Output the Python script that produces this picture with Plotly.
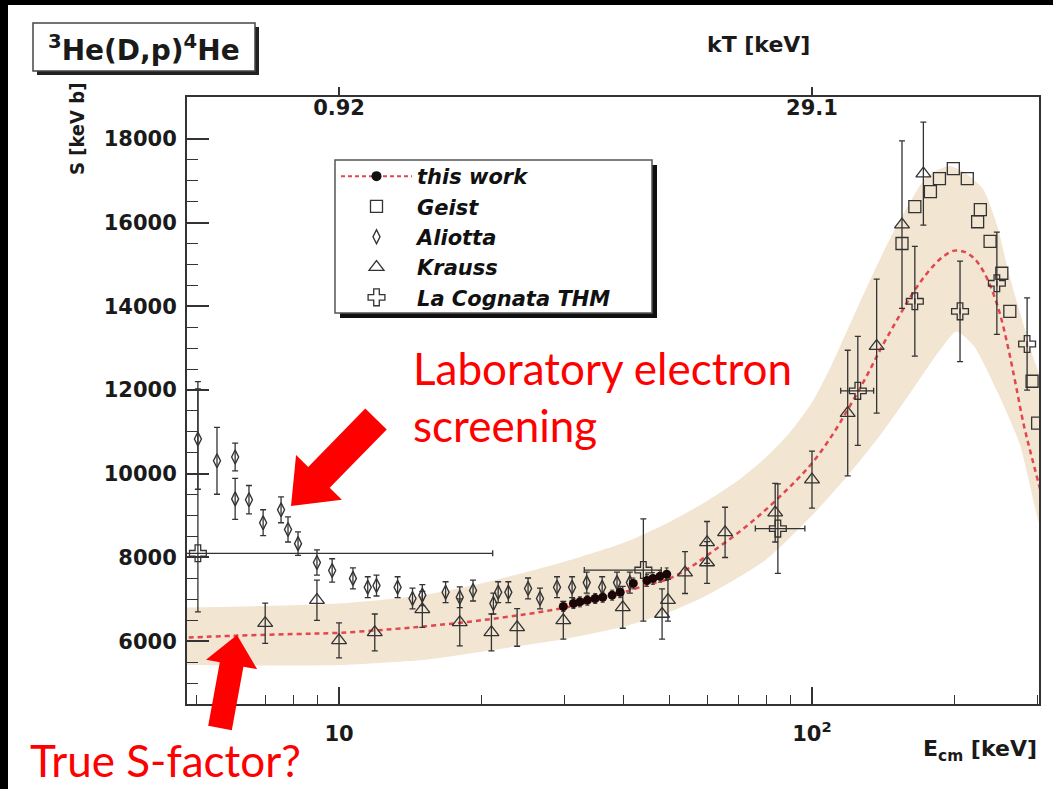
import math
import plotly.graph_objects as go

# ---------------------------------------------------------------------------
# Data: 3He(D,p)4He astrophysical S-factor, S [keV b] versus E_cm [keV]
# ---------------------------------------------------------------------------

# R-matrix fit ("this work") and its uncertainty band
fit_e = [4.6, 6, 8, 10, 13, 16, 20, 25, 30, 35, 40, 45, 50, 55, 60, 70, 80, 90,
         100, 110, 120, 130, 140, 150, 160, 170, 180, 190, 200, 210, 220, 230,
         240, 250, 260, 270, 280, 290, 305]
fit_s = [6080, 6130, 6170, 6200, 6290, 6380, 6500, 6650, 6800, 6980, 7170, 7350,
         7500, 7750, 8050, 8600, 9150, 9700, 10250, 10900, 11600, 12300, 13000,
         13600, 14150, 14600, 14950, 15200, 15330, 15300, 15150, 14850, 14400,
         13800, 13000, 12100, 11200, 10500, 9550]

band_lo_e = [4.6, 10, 15, 20, 30, 40, 50, 60, 80, 100, 120, 139, 163, 185, 202,
             220, 246, 275, 305]
band_lo_s = [5430, 5430, 5550, 5750, 6050, 6350, 6700, 7100, 7950, 9000, 10000,
             10900, 12000, 12900, 13400, 13050, 11980, 10710, 8700]
band_hi_e = [4.6, 10, 15, 20, 30, 40, 50, 60, 70, 80, 90, 100, 110, 124, 146, 175,
             195, 210, 230, 246, 262, 294, 305]
band_hi_s = [6800, 6900, 7100, 7380, 7900, 8350, 8850, 9350, 9850, 10400, 11000,
             11700, 12600, 13900, 15600, 17100, 17350, 17200, 16800, 15950, 14700,
             12760, 12200]

# this work (measured points)
tw_e = [29.8, 31.3, 32.3, 33.5, 34.8, 36.1, 37.8, 39.3, 41.9, 44.8, 46.1, 47.7, 49.3]
tw_s = [6830, 6900, 6940, 6980, 7020, 7050, 7100, 7170, 7380, 7450, 7500, 7550, 7600]
tw_err = [120, 120, 120, 120, 120, 120, 120, 130, 130, 140, 140, 140, 150]

# Geist
ge_e = [155, 165, 178, 186, 199, 213, 224, 227, 238, 252, 262, 292, 300]
ge_s = [15500, 16380, 16740, 17050, 17290, 17050, 16020, 16310, 15550, 14790,
        13880, 12210, 11210]

# Aliotta
ali_e = [5.03, 5.52, 6.03, 6.03, 6.45, 6.91, 7.54, 7.80, 8.19, 8.98, 9.67, 10.7,
         11.5, 12.0, 13.3, 14.3, 15.0, 16.8, 18.0, 19.2, 21.2, 21.7, 22.8, 25.1,
         26.6, 28.9, 31.1, 33.4, 36.0, 38.7, 41.2]
ali_s = [10830, 10310, 10400, 9400, 9380, 8830, 9140, 8670, 8330, 7880, 7690, 7500,
         7290, 7330, 7290, 7020, 7100, 7170, 7050, 7210, 6900, 7170, 7170, 7260,
         7020, 7290, 7290, 7400, 7290, 7400, 7400]
ali_err = [1200, 800, 330, 490, 340, 310, 310, 300, 280, 300, 280, 250, 250, 250,
           250, 250, 250, 250, 250, 250, 250, 250, 250, 250, 250, 250, 250, 250,
           250, 250, 250]

# Krauss
kr_e = [6.98, 8.98, 10.0, 11.9, 15.0, 18.0, 21.0, 23.8, 29.8, 39.8, 48.2, 49.6,
        53.9, 60.0, 60.0, 65.5, 83.6, 100, 119, 137, 155, 172]
kr_s = [6430, 6980, 6020, 6210, 6760, 6450, 6210, 6330, 6500, 6810, 6650, 6980,
        7640, 7880, 8360, 8600, 9070, 9860, 11450, 13050, 15950, 17170]
kr_err = [480, 480, 420, 440, 430, 560, 440, 450, 450, 500, 600, 500, 500, 500,
          500, 600, 700, 680, 1500, 1600, 2000, 1230]

# La Cognata THM
thm_e = [5.03, 44, 84.7, 125, 165, 205.6, 246, 285]
thm_s = [8100, 7700, 8690, 11980, 14120, 13880, 14550, 13100]
thm_err_up = [4100, 1220, 1070, 1300, 1310, 1200, 1220, 1100]
thm_err_dn = [1400, 1220, 1070, 1300, 1310, 1200, 1220, 1100]
thm_xerr_up = [16.1, 4, 11.9, 10, 0, 0, 0, 0]
thm_xerr_dn = [0.3, 11, 8.8, 10, 0, 0, 0, 0]

# axis ticks
x_major = [10, 100]
x_major_text = ["10", "10<sup>2</sup>"]
x_minor = [5, 6, 7, 8, 9, 20, 30, 40, 50, 60, 70, 80, 90, 200, 300]
y_major = [6000, 8000, 10000, 12000, 14000, 16000, 18000]
y_major_text = ["6000", "8000", "10000", "12000", "14000", "16000", "18000"]
kt_pos = [10, 100]
kt_text = ["0.92", "29.1"]

# ---------------------------------------------------------------------------
# Styling / layout helpers
# ---------------------------------------------------------------------------
W, H = 1053, 789
L, R, T, B = 187, 1039, 97, 704          # plot-area edges in pixels
X_RANGE = [math.log10(4.77), math.log10(302)]
Y_RANGE = [4500, 19000]

AX = "#333333"
MK = "#333333"
RED_FIT = "rgb(226,70,80)"
BAND = "rgb(242,229,210)"
BOLD = dict(family="DejaVu Sans", color="#1a1a1a", weight="bold")


def px(x):
    return (x - L) / (R - L)


def py(y):
    return (B - y) / (B - T)


def arrow_path(tip, tail, head_len, head_half, shaft_half):
    tx, ty = tip
    sx, sy = tail
    dx, dy = sx - tx, sy - ty
    n = math.hypot(dx, dy)
    ux, uy = dx / n, dy / n
    vx, vy = -uy, ux
    bx, by = tx + ux * head_len, ty + uy * head_len
    pts = [
        (tx, ty),
        (bx + vx * head_half, by + vy * head_half),
        (bx + vx * shaft_half, by + vy * shaft_half),
        (sx + vx * shaft_half, sy + vy * shaft_half),
        (sx - vx * shaft_half, sy - vy * shaft_half),
        (bx - vx * shaft_half, by - vy * shaft_half),
        (bx - vx * head_half, by - vy * head_half),
    ]
    return "M " + " L ".join(f"{px(x):.5f},{py(y):.5f}" for x, y in pts) + " Z"


def err(arr, arr_minus=None, thickness=1.3, width=3):
    d = dict(type="data", array=arr, visible=True, color=MK,
             thickness=thickness, width=width)
    if arr_minus is not None:
        d["symmetric"] = False
        d["arrayminus"] = arr_minus
    return d


fig = go.Figure()

# uncertainty band of the fit
fig.add_trace(go.Scatter(
    x=band_lo_e + band_hi_e[::-1], y=band_lo_s + band_hi_s[::-1],
    mode="lines", fill="toself", fillcolor=BAND,
    line=dict(width=0, shape="spline", smoothing=0.6),
    showlegend=False, hoverinfo="skip"))

# fit curve
fig.add_trace(go.Scatter(
    x=fit_e, y=fit_s, mode="lines",
    line=dict(color=RED_FIT, width=2.5, dash="5px,4px", shape="spline"),
    showlegend=False, hoverinfo="skip"))

fig.add_trace(go.Scatter(
    x=ali_e, y=ali_s, mode="markers", name="Aliotta", legendrank=3,
    marker=dict(symbol="diamond-tall-open", size=10, color=MK, line=dict(width=1.4, color=MK)),
    error_y=err(ali_err)))

fig.add_trace(go.Scatter(
    x=kr_e, y=kr_s, mode="markers", name="Krauss", legendrank=4,
    marker=dict(symbol="triangle-up-open", size=13, color=MK, line=dict(width=1.3, color=MK)),
    error_y=err(kr_err)))

fig.add_trace(go.Scatter(
    x=ge_e, y=ge_s, mode="markers", name="Geist", legendrank=2,
    marker=dict(symbol="square-open", size=12, color=MK, line=dict(width=1.3, color=MK))))

fig.add_trace(go.Scatter(
    x=thm_e, y=thm_s, mode="markers", name="La Cognata THM", legendrank=5,
    marker=dict(symbol="cross-open", size=14, color=MK, line=dict(width=1.3, color=MK)),
    error_y=err(thm_err_up, thm_err_dn),
    error_x=err(thm_xerr_up, thm_xerr_dn)))

fig.add_trace(go.Scatter(
    x=tw_e, y=tw_s, mode="markers", showlegend=False,
    marker=dict(symbol="circle", size=9, color="#1a0606"),
    error_y=err(tw_err, thickness=1.0, width=2)))

# legend entry for "this work": fit line with measured point
fig.add_trace(go.Scatter(
    x=[None], y=[None], mode="lines+markers", name="this work", legendrank=1,
    xaxis="x2",
    line=dict(color=RED_FIT, width=2, dash="4px,3px"),
    marker=dict(symbol="circle", size=10, color="#111111")))

shapes = [
    # page background
    dict(type="rect", xref="paper", yref="paper", layer="below",
         x0=px(8), x1=px(W + 5), y0=py(H + 5), y1=py(5),
         fillcolor="white", line=dict(width=0)),
    # reaction label box with drop shadow
    dict(type="rect", xref="paper", yref="paper", layer="above",
         x0=px(37), x1=px(259), y0=py(75), y1=py(27),
         fillcolor="#222222", line=dict(width=0)),
    dict(type="rect", xref="paper", yref="paper", layer="above",
         x0=px(33), x1=px(255), y0=py(71), y1=py(23),
         fillcolor="white", line=dict(width=1.5, color="#444444")),
    # legend frame with drop shadow
    dict(type="rect", xref="paper", yref="paper", layer="above",
         x0=px(340), x1=px(657), y0=py(318), y1=py(165),
         fillcolor="#111111", line=dict(width=0)),
    dict(type="rect", xref="paper", yref="paper", layer="above",
         x0=px(335), x1=px(652), y0=py(313), y1=py(160),
         fillcolor="white", line=dict(width=1.5, color="#555555")),
    # red arrows
    dict(type="path", xref="paper", yref="paper", layer="above",
         path=arrow_path((291, 506), (376, 419), 40, 32, 15),
         fillcolor="#ff0000", line=dict(width=0)),
    dict(type="path", xref="paper", yref="paper", layer="above",
         path=arrow_path((237, 635), (220, 728), 30, 26, 12),
         fillcolor="#ff0000", line=dict(width=0)),
]

annotations = [
    dict(text="<sup>3</sup>He(D,p)<sup>4</sup>He", x=px(144), y=py(48),
         xref="paper", yref="paper", showarrow=False, xanchor="center", yanchor="middle",
         font=dict(size=28, **BOLD)),
    dict(text="S [keV b]", x=px(77), y=py(129), xref="paper", yref="paper",
         showarrow=False, textangle=-90, xanchor="center", yanchor="middle",
         font=dict(family="Liberation Sans Narrow, DejaVu Sans Condensed, DejaVu Sans",
                   size=20, color="#1a1a1a", weight="bold")),
    dict(text="kT [keV]", x=px(758), y=py(45), xref="paper", yref="paper",
         showarrow=False, xanchor="center", yanchor="middle",
         font=dict(size=22, **BOLD)),
    dict(text="E<sub>cm</sub> [keV]", x=px(1039), y=py(750), xref="paper", yref="paper",
         showarrow=False, xanchor="right", yanchor="middle",
         font=dict(size=22, **BOLD)),
    dict(text="Laboratory electron<br>screening", x=px(411), y=py(396),
         xref="paper", yref="paper", showarrow=False, xanchor="left", yanchor="middle",
         align="left", font=dict(family="Lato", size=44, color="#ff0000")),
    dict(text="True S-factor?", x=px(28), y=py(760), xref="paper", yref="paper",
         showarrow=False, xanchor="left", yanchor="middle",
         font=dict(family="Lato", size=44, color="#ff0000")),
]

tickfont = dict(size=21, **BOLD)

fig.update_layout(
    width=W, height=H,
    margin=dict(l=L, r=W - R, t=T, b=H - B, pad=0),
    paper_bgcolor="black", plot_bgcolor="white",
    hovermode=False,
    showlegend=True,
    xaxis=dict(type="log", range=X_RANGE, showline=True, linecolor=AX, linewidth=2,
               mirror=True, ticks="inside", ticklen=17, tickwidth=1.5, tickcolor=AX,
               tickmode="array", tickvals=x_major, ticktext=x_major_text,
               tickfont=tickfont, ticklabelstandoff=10,
               minor=dict(tickmode="array", tickvals=x_minor, ticks="inside",
                          ticklen=9, tickwidth=1.2, tickcolor=AX, showgrid=False),
               showgrid=False, zeroline=False),
    xaxis2=dict(type="log", range=X_RANGE, overlaying="x", side="top", anchor="y",
                tickmode="array", tickvals=kt_pos, ticktext=kt_text,
                ticks="outside", ticklen=9, tickwidth=1.5, tickcolor=AX,
                ticklabelposition="inside", tickfont=tickfont,
                showline=False, showgrid=False, zeroline=False),
    yaxis=dict(range=Y_RANGE, showline=True, linecolor=AX, linewidth=2, mirror=True,
               ticks="inside", ticklen=22, tickwidth=1.5, tickcolor=AX,
               tickmode="array", tickvals=y_major, ticktext=y_major_text,
               tickfont=tickfont, ticklabelstandoff=4,
               minor=dict(tickmode="linear", tick0=0, dtick=500, ticks="inside",
                          ticklen=11, tickwidth=1.2, tickcolor=AX, showgrid=False),
               showgrid=False, zeroline=False),
    legend=dict(x=px(336), y=py(156), xanchor="left", yanchor="top",
                bgcolor="rgba(0,0,0,0)", borderwidth=0,
                font=dict(family="DejaVu Sans", size=21, color="#111111",
                          weight="bold", style="italic"),
                itemwidth=71, tracegroupgap=0, traceorder="normal"),
    shapes=shapes,
    annotations=annotations,
)

fig.write_html("out.html")
